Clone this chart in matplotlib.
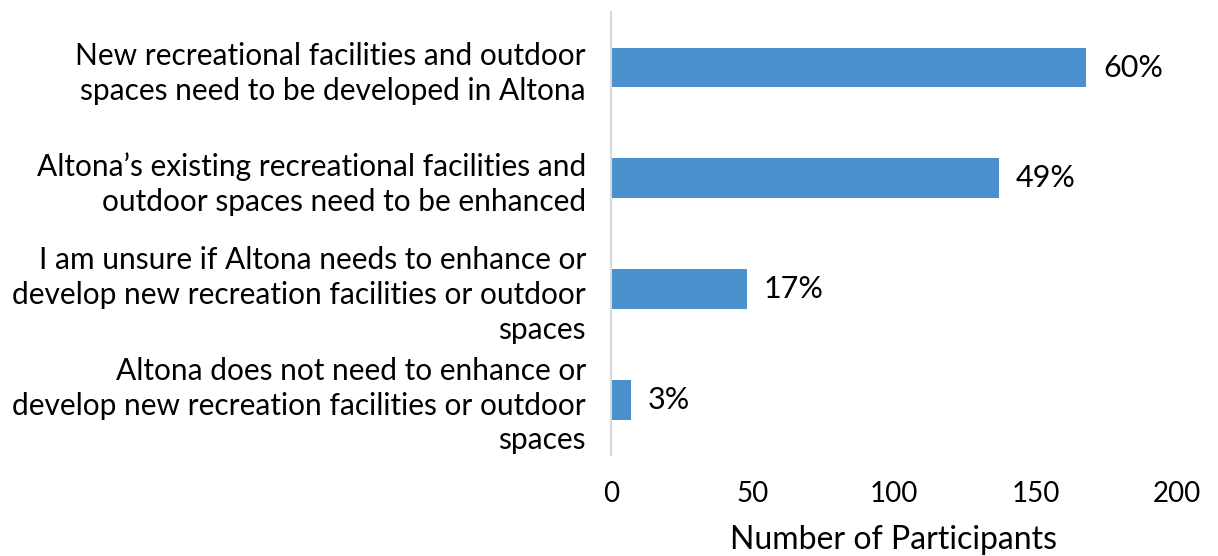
import matplotlib
matplotlib.use("Agg")
import matplotlib.pyplot as plt
import numpy as np

plt.rcParams['font.family'] = ['Lato', 'DejaVu Sans']

categories = [
    "New recreational facilities and outdoor\nspaces need to be developed in Altona",
    "Altona\u2019s existing recreational facilities and\noutdoor spaces need to be enhanced",
    "I am unsure if Altona needs to enhance or\ndevelop new recreation facilities or outdoor\nspaces",
    "Altona does not need to enhance or\ndevelop new recreation facilities or outdoor\nspaces",
]
participants = [168, 137, 48, 7]
percent_labels = ["60%", "49%", "17%", "3%"]
x_ticks = [0, 50, 100, 150, 200]

fig = plt.figure(figsize=(12.18, 5.56), dpi=100)
ax = fig.add_axes([0.5016, 0.1817, 0.4647, 0.7963])

y = np.arange(len(categories))
ax.barh(y, participants, height=0.36, color="#4A90CD")
for yi, v, lab in zip(y, participants, percent_labels):
    ax.text(v + 6, yi, lab, va="center", ha="left", fontsize=22, color="black")

ax.set_ylim(len(categories) - 0.5, -0.5)
ax.set_xlim(0, 200)
ax.set_yticks(y)
ax.set_yticklabels(categories, fontsize=21.5, ha="right", linespacing=1.3)
ax.set_xticks(x_ticks)
ax.set_xticklabels([str(t) for t in x_ticks], fontsize=20)
ax.tick_params(axis="y", length=0, pad=18)
ax.tick_params(axis="x", length=0, pad=19)
ax.set_xlabel("Number of Participants", fontsize=23, labelpad=13)

for s in ["top", "right", "bottom"]:
    ax.spines[s].set_visible(False)
ax.spines["left"].set_color("#D9D9D9")
ax.spines["left"].set_linewidth(1.5)

fig.savefig("out.png", dpi=100)
